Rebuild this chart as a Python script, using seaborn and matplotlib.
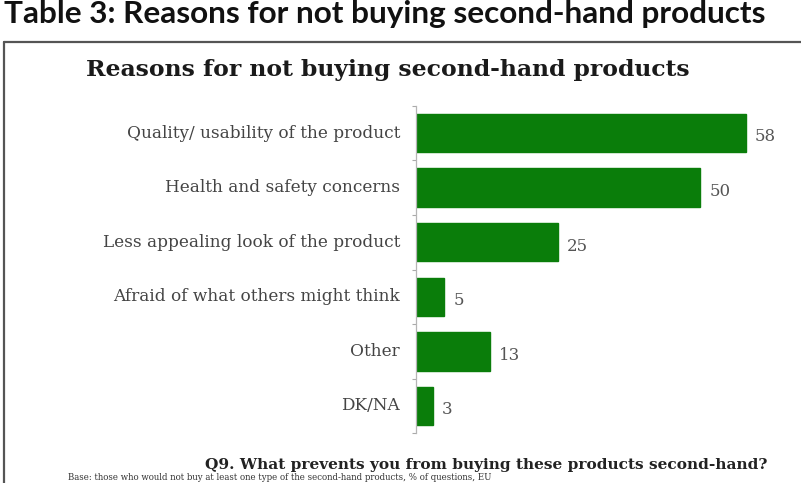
import matplotlib
matplotlib.use("Agg")
import matplotlib.pyplot as plt
import seaborn as sns
import pandas as pd
from matplotlib.lines import Line2D

categories = ["Quality/ usability of the product", "Health and safety concerns",
              "Less appealing look of the product", "Afraid of what others might think",
              "Other", "DK/NA"]
values = [58, 50, 25, 5, 13, 3]

header = "Table 3: Reasons for not buying second-hand products"
title = "Reasons for not buying second-hand products"
question = "Q9. What prevents you from buying these products second-hand?"
base_note = "Base: those who would not buy at least one type of the second-hand products, % of questions, EU"

sns.set_theme(style="white")
W, H = 801, 483
fig = plt.figure(figsize=(W / 100, H / 100), dpi=100)
renderer = fig.canvas.get_renderer()

def px(x, y):
    return x / W, 1 - y / H

def fit_text(x, y, s, width_px, **kw):
    t = fig.text(*px(x, y), s, **kw)
    fs = kw.get("fontsize", 12)
    w = t.get_window_extent(renderer).width
    t.set_fontsize(fs * width_px / w)
    return t

# Axes: data 0 at x=416, 58 at x=746 ; rows centred 133..406
ppu = (746 - 416) / 58.0
left, right = 416, 790
top, bottom = 105.7, 433.3
ax = fig.add_axes([left / W, 1 - bottom / H, (right - left) / W, (bottom - top) / H])
df = pd.DataFrame({"cat": categories, "val": values})
sns.barplot(data=df, y="cat", x="val", orient="h", color="#0a7d0a", saturation=1,
            width=0.7, ax=ax, edgecolor="#0a7d0a")
ax.set_xlim(0, (right - left) / ppu)
ax.set_ylim(len(categories) - 0.5, -0.5)
ax.set_xlabel("")
ax.set_ylabel("")
ax.set_xticks([])
ax.set_yticks([i - 0.5 for i in range(len(categories) + 1)])
ax.set_yticklabels([])
ax.tick_params(axis="y", which="major", direction="out", length=3, width=0.8,
               color="#aaaaaa", left=True)
for sp in ["top", "right", "bottom"]:
    ax.spines[sp].set_visible(False)
ax.spines["left"].set_color("#b5b5b5")
ax.spines["left"].set_linewidth(0.9)
ax.set_facecolor("none")

# category labels
lab_fs = None
for i, (c, v) in enumerate(zip(categories, values)):
    yc = 133 + i * (406 - 133) / 5
    if i == 0:
        t = fit_text(400, yc, c, 272, ha="right", va="center", family="DejaVu Serif",
                     color="#444444", fontsize=12)
        lab_fs = t.get_fontsize()
    else:
        fig.text(*px(400, yc), c, ha="right", va="center", family="DejaVu Serif",
                 color="#444444", fontsize=lab_fs)
    ax.text(v + 9 / ppu, i + 0.07, str(v), ha="left", va="center",
            family="DejaVu Serif", color="#555555", fontsize=lab_fs * 0.98)

# header (kept just inside the top edge)
hdr = fit_text(4, 0, header, 762, ha="left", va="top", family="Lato",
               fontweight="bold", color="#111111", fontsize=20)
hdr.set_position(px(4, 0.5))

# frame
fig.add_artist(Line2D([4 / W, 4 / W], [1 - 42 / H, 0], transform=fig.transFigure,
                      color="#555555", lw=1.6))
fig.add_artist(Line2D([4 / W, 1], [1 - 42 / H, 1 - 42 / H], transform=fig.transFigure,
                      color="#555555", lw=1.6))

# chart title
fit_text(86, 76, title, 604, ha="left", va="baseline", family="DejaVu Serif",
         fontweight="bold", color="#1a1a1a", fontsize=18)

# question footer
fit_text(205, 469, question, 563, ha="left", va="baseline", family="DejaVu Serif",
         fontweight="bold", color="#222222", fontsize=11)

# base note (small, just inside bottom edge)
bn = fig.text(*px(68, 482.5), base_note, ha="left", va="bottom",
              family="DejaVu Serif", color="#333333", fontsize=6.2)

fig.savefig("out.png", dpi=100)
